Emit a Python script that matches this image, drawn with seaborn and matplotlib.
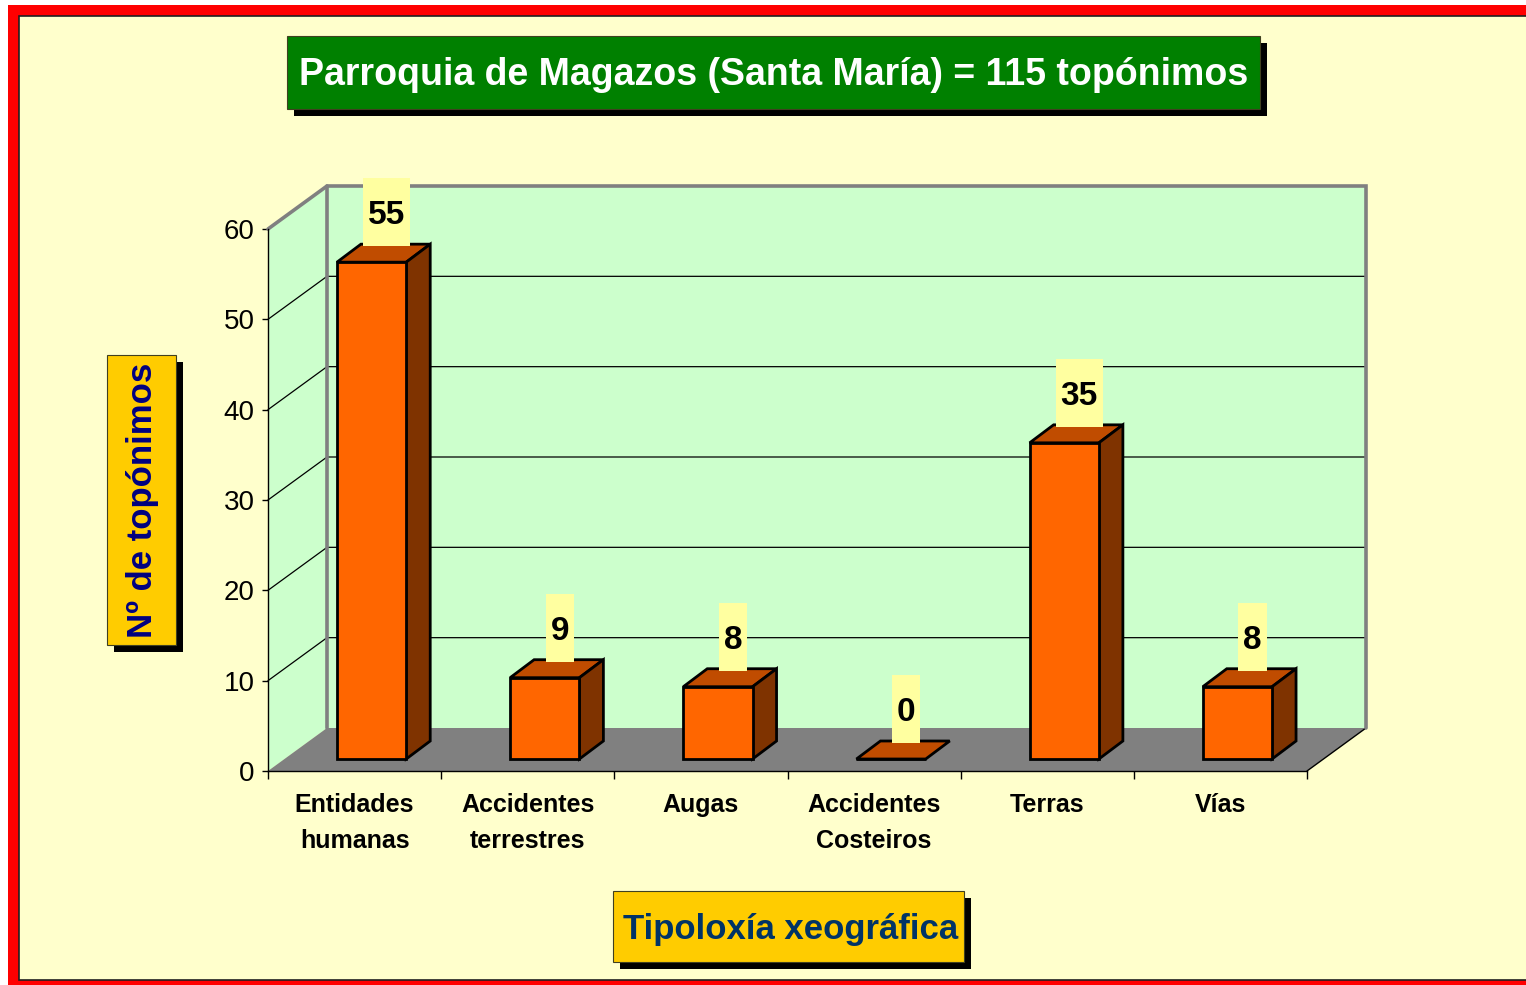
import numpy as np
import matplotlib
matplotlib.use('Agg')
import matplotlib.pyplot as plt
import seaborn as sns
from matplotlib.patches import Rectangle, Polygon
from matplotlib.transforms import Affine2D, IdentityTransform
from matplotlib.lines import Line2D

# ---------------- data ----------------
categories = ["Entidades\nhumanas", "Accidentes\nterrestres", "Augas",
              "Accidentes\nCosteiros", "Terras", "Vías"]
values = [55, 9, 8, 0, 35, 8]
y_ticks = [0, 10, 20, 30, 40, 50, 60]
title_text = "Parroquia de Magazos (Santa María) = 115 topónimos"
x_title = "Tipoloxía xeográfica"
y_title = "Nº de topónimos"

# ---------------- style ----------------
sns.set_style('ticks')
plt.rcParams['font.family'] = ['Liberation Sans', 'DejaVu Sans']
plt.rcParams['text.color'] = 'black'
plt.rcParams['xtick.color'] = 'black'
plt.rcParams['ytick.color'] = 'black'
plt.rcParams['xtick.labelcolor'] = 'black'
plt.rcParams['ytick.labelcolor'] = 'black'

W, H = 1526, 985
fig = plt.figure(figsize=(W / 100, H / 100), dpi=100)
fig.patch.set_facecolor('white')
ID = IdentityTransform()


def disp(x, y):
    """pixel coords (origin top-left) -> display coords"""
    return x, H - y


# outer red frame and cream background
fig.add_artist(Rectangle(disp(8, 985), 2000, 980, transform=ID,
                         facecolor='#FF0000', edgecolor='none', zorder=-2))
fig.add_artist(Rectangle(disp(19, 980), 2000, 964, transform=ID,
                         facecolor='#FFFFCC', edgecolor='#202020', lw=1.2, zorder=-1))

# ---------------- axes (front plane) ----------------
ax = fig.add_axes([268 / W, 1 - 771 / H, 1039 / W, 542 / H])
ax.set_facecolor('none')
ax.set_zorder(1)

sns.barplot(x=categories, y=values, color='#FF6600', saturation=1, width=0.4,
            edgecolor='black', linewidth=2.0, ax=ax, zorder=6)
ax.set_xlim(-0.5, len(categories) - 0.5)
ax.set_ylim(0, 60)
ax.set_autoscale_on(False)
ax.set_xlabel('')
ax.set_ylabel('')

for s in ['top', 'right']:
    ax.spines[s].set_visible(False)
for s in ['left', 'bottom']:
    ax.spines[s].set_color('black')
    ax.spines[s].set_linewidth(1.0)
    ax.spines[s].set_zorder(3)

ax.set_yticks(y_ticks)
ax.tick_params(axis='y', which='major', left=True, length=4.5, width=1,
               color='black', labelcolor='black', direction='out', pad=5, labelsize=20)
ax.set_xticks(range(len(categories)))
ax.set_xticklabels(categories)
ax.set_xticks(np.arange(-0.5, len(categories)), minor=True)
ax.tick_params(axis='x', which='major', bottom=True, length=0, pad=16, labelsize=18,
               labelcolor='black')
ax.tick_params(axis='x', which='minor', bottom=True, length=6, width=1,
               color='black', direction='out')
for lbl in ax.get_xticklabels():
    lbl.set_fontweight('bold')
    lbl.set_linespacing(1.6)
    lbl.set_color('black')

# ---------------- pseudo 3D walls ----------------
T = ax.transData
DX, DY = 59, 43          # full depth of the plot box (pixels)
x0, x1 = -0.5, len(categories) - 0.5
(fx0, fy0), (fx1, fy1) = T.transform([(x0, 0), (x1, 60)])

wall_col = '#CCFFCC'
edge_gray = '#808080'
# back wall
ax.add_patch(Polygon([(fx0 + DX, fy0 + DY), (fx1 + DX, fy0 + DY),
                      (fx1 + DX, fy1 + DY), (fx0 + DX, fy1 + DY)],
                     closed=True, transform=ID, facecolor=wall_col,
                     edgecolor='none', zorder=1, clip_on=False))
# side wall
ax.add_patch(Polygon([(fx0, fy0), (fx0, fy1), (fx0 + DX, fy1 + DY), (fx0 + DX, fy0 + DY)],
                     closed=True, transform=ID, facecolor=wall_col,
                     edgecolor='none', zorder=1, clip_on=False))
# floor
ax.add_patch(Polygon([(fx0, fy0), (fx1, fy0), (fx1 + DX, fy0 + DY), (fx0 + DX, fy0 + DY)],
                     closed=True, transform=ID, facecolor='#808080',
                     edgecolor='none', zorder=1.5, clip_on=False))
ax.add_line(Line2D([fx1, fx1 + DX], [fy0, fy0 + DY], transform=ID, color='black',
                   lw=1, zorder=2, clip_on=False))

# gridlines
for v in y_ticks[1:-1]:
    _, gy = T.transform((x0, v))
    ax.add_line(Line2D([fx0, fx0 + DX, fx1 + DX], [gy, gy + DY, gy + DY],
                       transform=ID, color='black', lw=0.9, zorder=2, clip_on=False))

# gray wall edges
ax.add_line(Line2D([fx0, fx0 + DX, fx1 + DX, fx1 + DX],
                   [fy1, fy1 + DY, fy1 + DY, fy0 + DY],
                   transform=ID, color=edge_gray, lw=2.6, zorder=2.2, clip_on=False,
                   solid_joinstyle='miter'))
ax.add_line(Line2D([fx0 + DX, fx0 + DX], [fy1 + DY, fy0 + DY],
                   transform=ID, color=edge_gray, lw=2.6, zorder=2.2, clip_on=False))

# ---------------- 3D bars ----------------
BX, BY = 17, 12          # bar front face depth shift
BDX, BDY = 24, 18        # bar depth
TB = T + Affine2D().translate(BX, BY)
bars = list(ax.patches)[:len(values)]
renderer = fig.canvas.get_renderer()
for p, v in zip(bars, values):
    p.set_transform(TB)
    p.set_clip_on(False)
    xb, wb, hb = p.get_x(), p.get_width(), p.get_height()
    (xl, yb), (xr, yt) = TB.transform([(xb, 0), (xb + wb, hb)])
    top = Polygon([(xl, yt), (xr, yt), (xr + BDX, yt + BDY), (xl + BDX, yt + BDY)],
                  closed=True, transform=ID, facecolor='#C04C00', edgecolor='black',
                  lw=2.0, zorder=5, clip_on=False, joinstyle='miter')
    ax.add_patch(top)
    if hb > 0:
        side = Polygon([(xr, yb), (xr, yt), (xr + BDX, yt + BDY), (xr + BDX, yb + BDY)],
                       closed=True, transform=ID, facecolor='#7F3300', edgecolor='black',
                       lw=2.0, zorder=5, clip_on=False, joinstyle='miter')
        ax.add_patch(side)
    # value label
    cx = (xl + xr) / 2 + BDX / 2 + 3
    cy = yt + 50
    fs = 24
    cap = 0.716 * fs * 100 / 72
    t = ax.text(cx, cy - cap / 2, str(v), transform=ID, ha='center', va='baseline',
                fontsize=fs, fontweight='bold', color='black', zorder=9, clip_on=False)
    tw = t.get_window_extent(renderer).width
    ax.add_patch(Rectangle((cx - tw / 2 - 5, cy - 34), tw + 10, 68, transform=ID,
                           facecolor='#FFFFA0', edgecolor='none', zorder=8, clip_on=False))


# ---------------- boxed titles ----------------
def boxed(x, y, w, h, fc, sh=7):
    fig.add_artist(Rectangle(disp(x + sh, y + h + sh), w, h, transform=ID,
                             facecolor='black', edgecolor='none', zorder=3))
    fig.add_artist(Rectangle(disp(x, y + h), w, h, transform=ID,
                             facecolor=fc, edgecolor='#404020', lw=0.8, zorder=4))


boxed(287, 36, 973, 73, '#008000')
fig.text(*disp(774, 85), title_text, transform=ID, ha='center', va='baseline',
         fontsize=27, fontweight='bold', color='white', zorder=5)

boxed(107, 355, 69, 290, '#FFCC00')
fig.text(*disp(152, 500), y_title, transform=ID, ha='center', va='baseline',
         rotation=90, rotation_mode='anchor', fontsize=25, fontweight='bold',
         color='#000080', zorder=5)

boxed(613, 891, 351, 71, '#FFCC00')
fig.text(*disp(791, 939), x_title, transform=ID, ha='center', va='baseline',
         fontsize=25, fontweight='bold', color='#003366', zorder=5)

fig.savefig('out.png', dpi=100, facecolor=fig.get_facecolor())
